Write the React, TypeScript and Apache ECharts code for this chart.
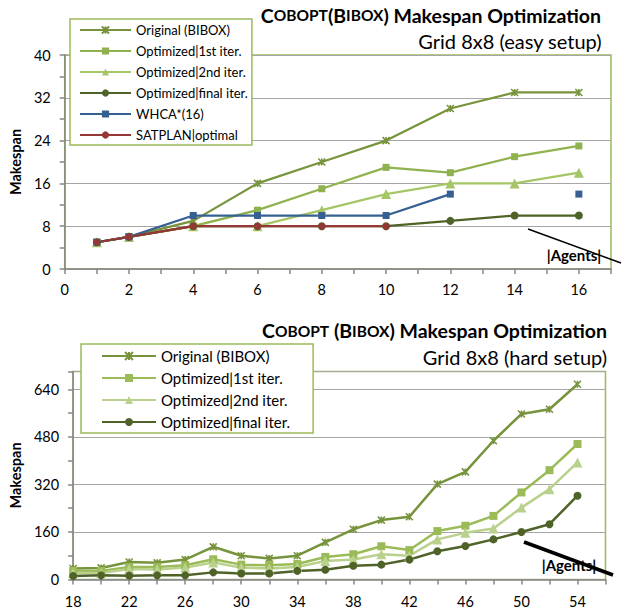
import React, { useEffect, useRef } from 'react';
import * as echarts from 'echarts';

const FONT = 'Lato, "Open Sans", sans-serif';

// ---- Top chart data (Grid 8x8 easy setup) ----
const xTop = [1, 2, 4, 6, 8, 10, 12, 14, 16];
const origTop = [5, 6, 9, 16, 20, 24, 30, 33, 33];
const it1Top = [5, 6, 8, 11, 15, 19, 18, 21, 23];
const it2Top = [5, 6, 8, 8, 11, 14, 16, 16, 18];
const finTop = [5, 6, 8, 8, 8, 8, 9, 10, 10];
const whcaTop = [5, 6, 10, 10, 10, 10, 14, null, 14];
const satTop = [5, 6, 8, 8, 8, 8, null, null, null];

// ---- Bottom chart data (Grid 8x8 hard setup) ----
const xBot = [18, 20, 22, 24, 26, 28, 30, 32, 34, 36, 38, 40, 42, 44, 46, 48, 50, 52, 54];
const origBot = [37, 39, 59, 56, 67, 110, 80, 71, 80, 125, 169, 200, 211, 321, 362, 467, 557, 573, 657];
const it1Bot = [29, 29, 42, 42, 48, 68, 50, 48, 52, 76, 85, 112, 99, 163, 181, 214, 293, 368, 456];
const it2Bot = [22, 22, 35, 34, 40, 57, 40, 37, 42, 62, 67, 85, 80, 135, 157, 172, 242, 304, 394];
const finBot = [12, 14, 13, 14, 14, 24, 20, 20, 29, 33, 46, 50, 67, 95, 113, 135, 160, 186, 282];

const namesTop = [
  'Original (BIBOX)',
  'Optimized|1st iter.',
  'Optimized|2nd iter.',
  'Optimized|final iter.',
  'WHCA*(16)',
  'SATPLAN|optimal',
];
const namesBot = [
  'Original (BIBOX)',
  'Optimized|1st iter.',
  'Optimized|2nd iter.',
  'Optimized|final iter.',
];

const STAR = 'path://M0,0L10,10M10,0L0,10M5,0L5,10';

const pairs = (xs: number[], ys: (number | null)[]) =>
  xs.map((x, i) => [x, ys[i] === null ? null : ys[i]]);

export default function App() {
  const ref = useRef<HTMLDivElement>(null);
  useEffect(() => {
    if (!ref.current) return;
    const chart = echarts.init(ref.current, undefined, { renderer: 'svg' });

    const axisLine = { lineStyle: { color: '#868686', width: 1.5 } };
    const axisTick = { length: 5, lineStyle: { color: '#868686', width: 1.5 } };
    const labelStyle = { fontSize: 14.5, color: '#000', fontFamily: FONT };

    const mk = (
      name: string,
      data: any[],
      color: string,
      symbol: string,
      size: number,
      gi: number,
      lw: number,
      star = false
    ) => ({
      type: 'line',
      name,
      data,
      xAxisIndex: gi,
      yAxisIndex: gi,
      symbol,
      symbolSize: size,
      showSymbol: true,
      connectNulls: false,
      lineStyle: { color, width: lw },
      itemStyle: star
        ? { color, borderColor: color, borderWidth: 1.6 }
        : { color, borderWidth: 0 },
      emphasis: { disabled: true },
    });

    const topColors = ['#77933C', '#8FB24E', '#A6C566', '#4F6228', '#376092', '#953735'];
    const botColors = ['#77933C', '#9BBB59', '#B9D18C', '#4F6228'];

    const series: any[] = [
      mk(namesTop[0], pairs(xTop, origTop), topColors[0], STAR, 7, 0, 2.25, true),
      mk(namesTop[1], pairs(xTop, it1Top), topColors[1], 'rect', 7, 0, 2.25),
      mk(namesTop[2], pairs(xTop, it2Top), topColors[2], 'triangle', 10, 0, 2.25),
      mk(namesTop[3], pairs(xTop, finTop), topColors[3], 'circle', 8, 0, 2.25),
      mk(namesTop[4], pairs(xTop, whcaTop), topColors[4], 'rect', 7, 0, 2.25),
      mk(namesTop[5], pairs(xTop, satTop), topColors[5], 'circle', 7, 0, 2.25),
      mk('b:' + namesBot[0], pairs(xBot, origBot), botColors[0], STAR, 7, 1, 2.5, true),
      mk('b:' + namesBot[1], pairs(xBot, it1Bot), botColors[1], 'rect', 8, 1, 2.5),
      mk('b:' + namesBot[2], pairs(xBot, it2Bot), botColors[2], 'triangle', 10, 1, 2.5),
      mk('b:' + namesBot[3], pairs(xBot, finBot), botColors[3], 'circle', 8, 1, 2.5),
    ];

    const titleRich = {
      b: { fontSize: 19.5, fontWeight: 'bold', fontFamily: FONT, color: '#000', lineHeight: 24 },
      s: { fontSize: 15.5, fontWeight: 'bold', fontFamily: FONT, color: '#000', lineHeight: 24 },
    };

    const subStyle = { fontSize: 20, fontWeight: 'normal', fontFamily: FONT, color: '#000', lineHeight: 24 };

    const option: any = {
      animation: false,
      backgroundColor: '#fff',
      title: [
        {
          text: '{b|C}{s|OBOPT}{b|(B}{s|IBOX}{b|) Makespan Optimization}',
          right: 24,
          top: 3,
          padding: 0,
          textStyle: { rich: titleRich },
        },
        {
          text: 'Grid 8x8 (easy setup)',
          right: 23,
          top: 29,
          padding: 0,
          textStyle: subStyle,
        },
        {
          text: '{b|C}{s|OBOPT}{b| (B}{s|IBOX}{b|) Makespan Optimization}',
          right: 18,
          top: 318.5,
          padding: 0,
          textStyle: { rich: titleRich },
        },
        {
          text: 'Grid 8x8 (hard setup)',
          right: 18,
          top: 345,
          padding: 0,
          textStyle: subStyle,
        },
      ],
      legend: [
        {
          orient: 'vertical',
          left: 70,
          top: 19,
          padding: [4, 4, 3, 9],
          itemWidth: 51,
          itemHeight: 9,
          itemGap: 7,
          backgroundColor: '#fff',
          borderColor: '#9BBB59',
          borderWidth: 1.5,
          selectedMode: false,
          textStyle: { fontSize: 13, lineHeight: 14, fontFamily: FONT, color: '#000' },
          data: namesTop,
        },
        {
          orient: 'vertical',
          left: 81,
          top: 344,
          padding: [4, 23, 3, 20],
          itemWidth: 54,
          itemHeight: 10,
          itemGap: 6,
          backgroundColor: '#fff',
          borderColor: '#9BBB59',
          borderWidth: 1.5,
          selectedMode: false,
          textStyle: { fontSize: 15, lineHeight: 16, fontFamily: FONT, color: '#000' },
          formatter: (n: string) => n.replace(/^b:/, ''),
          data: namesBot.map((n) => 'b:' + n),
        },
      ],
      grid: [
        { left: 63, top: 55, width: 548, height: 214, show: true, borderColor: '#9BBB59', borderWidth: 1.5, backgroundColor: 'transparent' },
        { left: 68, top: 371.5, width: 537.5, height: 208, show: true, borderColor: '#9BBB59', borderWidth: 1.5, backgroundColor: 'transparent' },
      ],
      xAxis: [
        {
          gridIndex: 0,
          type: 'value',
          min: 0,
          max: 17,
          interval: 1,
          axisLine,
          axisTick,
          splitLine: { show: false },
          axisLabel: {
            ...labelStyle,
            margin: 13,
            showMaxLabel: true,
            formatter: (v: number) => (v % 2 === 0 ? String(v) : ''),
          },
        },
        {
          gridIndex: 1,
          type: 'value',
          min: 18,
          max: 56,
          interval: 2,
          axisLine,
          axisTick,
          splitLine: { show: false },
          axisLabel: {
            ...labelStyle,
            margin: 14,
            formatter: (v: number) => ((v - 18) % 4 === 0 && v <= 54 ? String(v) : ''),
          },
        },
      ],
      yAxis: [
        {
          gridIndex: 0,
          type: 'value',
          min: 0,
          max: 40,
          interval: 8,
          axisLine: { show: true, ...axisLine },
          axisTick: { show: true, ...axisTick },
          minorTick: { show: true, splitNumber: 2, length: 5, lineStyle: { color: '#868686', width: 1.5 } },
          splitLine: { show: true, lineStyle: { color: '#A6A6A6', width: 1.2 } },
          axisLabel: { ...labelStyle, margin: 14 },
          name: 'Makespan',
          nameLocation: 'middle',
          nameRotate: 90,
          nameGap: 36,
          nameTextStyle: { fontSize: 14.5, fontWeight: 'bold', fontFamily: FONT, color: '#000' },
        },
        {
          gridIndex: 1,
          type: 'value',
          min: 0,
          max: 700,
          interval: 80,
          axisLine: { show: true, ...axisLine },
          axisTick: { show: true, ...axisTick },
          splitLine: { show: false },
          axisLabel: {
            ...labelStyle,
            margin: 14,
            formatter: (v: number) => (v % 160 === 0 ? String(v) : ''),
          },
          name: 'Makespan',
          nameLocation: 'middle',
          nameRotate: 90,
          nameGap: 40,
          nameTextStyle: { fontSize: 14.5, fontWeight: 'bold', fontFamily: FONT, color: '#000' },
        },
        {
          gridIndex: 1,
          type: 'value',
          position: 'left',
          min: 0,
          max: 700,
          interval: 160,
          axisLine: { show: false },
          axisTick: { show: false },
          axisLabel: { show: false },
          splitLine: { show: true, lineStyle: { color: '#A6A6A6', width: 1.2 } },
        },
      ],
      graphic: [
        {
          type: 'line',
          shape: { x1: 528, y1: 229, x2: 621, y2: 263 },
          style: { stroke: '#000', lineWidth: 1.5 },
          z: 100,
        },
        {
          type: 'text',
          x: 574,
          y: 255,
          style: {
            text: '|Agents|',
            fontSize: 15,
            fontWeight: 'bold',
            fontFamily: FONT,
            fill: '#000',
            align: 'center',
            verticalAlign: 'middle',
          },
          z: 101,
        },
        {
          type: 'line',
          shape: { x1: 524, y1: 542, x2: 613, y2: 575 },
          style: { stroke: '#000', lineWidth: 3.5 },
          z: 100,
        },
        {
          type: 'text',
          x: 569,
          y: 565,
          style: {
            text: '|Agents|',
            fontSize: 15,
            fontWeight: 'bold',
            fontFamily: FONT,
            fill: '#000',
            align: 'center',
            verticalAlign: 'middle',
          },
          z: 101,
        },
      ],
      series,
    };

    chart.setOption(option);
    return () => chart.dispose();
  }, []);

  return (
    <div
      ref={ref}
      style={{ position: 'fixed', left: 0, top: 0, width: 625, height: 610, background: '#fff' }}
    />
  );
}
